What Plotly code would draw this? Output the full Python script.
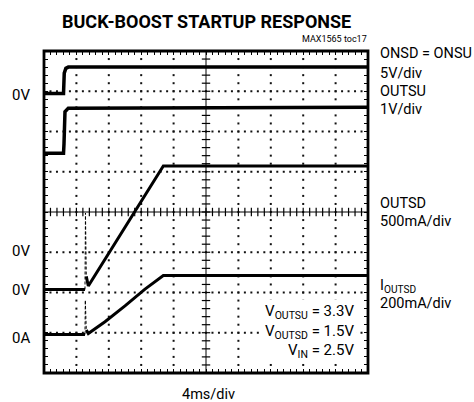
import numpy as np
import plotly.graph_objects as go

# ---- data (time in ms, 4 ms/div; vertical position in scope divisions 0..8) ----
onsd_t = [0, 2.41, 2.50, 2.70, 3.00, 40]
onsd_y = [6.944, 6.944, 7.45, 7.57, 7.60, 7.60]

outsu_t = [0, 2.41, 2.47, 2.59, 3.00, 40]
outsu_y = [5.458, 5.458, 5.70, 6.49, 6.58, 6.60]

outsd_t = [0, 5.06]
outsd_y = [2.075, 2.075]
outsd_spike_t = [5.06, 5.12, 5.22]
outsd_spike_y = [2.075, 3.975, 2.40]
outsd_ramp_t = [5.22, 5.47, 14.73, 40]
outsd_ramp_y = [2.40, 2.161, 5.143, 5.143]

iout_t = [0, 5.06]
iout_y = [0.957, 0.957]
iout_spike_t = [5.06, 5.10, 5.22]
iout_spike_y = [0.957, 1.81, 1.07]
iout_ramp_t = [5.22, 5.47, 7.53, 10.0, 12.47, 14.73, 40]
iout_ramp_y = [1.07, 0.981, 1.275, 1.668, 2.085, 2.422, 2.422]

left_labels = ["0V", "0V", "0V", "0A"]
left_label_y = [6.91, 3.03, 2.05, 0.87]

right_labels = ["ONSD = ONSU", "5V/div", "OUTSU", "1V/div",
                "OUTSD", "500mA/div", "I<sub>OUTSD</sub>", "200mA/div"]
right_label_py = [54, 73, 91, 109, 203, 222, 286, 303]

FONT = "Roboto, Liberation Sans, sans-serif"

fig = go.Figure()

# grid dots
minor_x = np.arange(0, 40.001, 0.8)
minor_y = np.arange(0, 8.001, 0.2)
gx, gy = [], []
for yy in [1, 2, 3, 5, 6, 7]:
    gx += list(minor_x); gy += [yy] * len(minor_x)
for xx in [4, 8, 12, 16, 24, 28, 32, 36]:
    gx += [xx] * len(minor_y); gy += list(minor_y)
fig.add_trace(go.Scatter(x=gx, y=gy, mode="markers",
                         marker=dict(symbol="square", size=2, color="#111", line=dict(width=0)),
                         hoverinfo="skip", showlegend=False))
# center axes ticks
fig.add_trace(go.Scatter(x=list(minor_x), y=[4] * len(minor_x), mode="markers",
                         marker=dict(symbol="line-ns", size=6, line=dict(width=1.2, color="black")),
                         hoverinfo="skip", showlegend=False))
fig.add_trace(go.Scatter(x=[20] * len(minor_y), y=list(minor_y), mode="markers",
                         marker=dict(symbol="line-ew", size=6, line=dict(width=1.2, color="black")),
                         hoverinfo="skip", showlegend=False))

def line(t, y, w, dash="solid"):
    fig.add_trace(go.Scatter(x=t, y=y, mode="lines",
                             line=dict(color="black", width=w, dash=dash),
                             hoverinfo="skip", showlegend=False))

line(onsd_t, onsd_y, 3.5)
line(outsu_t, outsu_y, 3.5)
line(outsd_t, outsd_y, 3)
line(outsd_spike_t, outsd_spike_y, 1, "3px,2px")
line(outsd_ramp_t, outsd_ramp_y, 3)
line(iout_t, iout_y, 3)
line(iout_spike_t, iout_spike_y, 1, "3px,2px")
line(iout_ramp_t, iout_ramp_y, 3)

# center lines and frame
fig.add_shape(type="line", x0=20, x1=20, y0=0, y1=8, xref="x", yref="y",
              line=dict(color="black", width=1))
fig.add_shape(type="line", x0=0, x1=40, y0=4, y1=4, xref="x", yref="y",
              line=dict(color="black", width=1))
fig.add_shape(type="rect", x0=0, x1=1, y0=0, y1=1, xref="paper", yref="paper",
              line=dict(color="black", width=2.8))

ann = []
ann.append(dict(text="<b>BUCK-BOOST STARTUP RESPONSE</b>", x=0.5015, y=1.091, xref="paper", yref="paper",
                xanchor="center", yanchor="middle", showarrow=False,
                font=dict(family=FONT, size=18, color="black")))
ann.append(dict(text="MAX1565 toc17", x=1.003, y=1.036, xref="paper", yref="paper",
                xanchor="right", yanchor="middle", showarrow=False,
                font=dict(family=FONT, size=9, color="black")))
for txt, py in zip(right_labels, right_label_py):
    ann.append(dict(text=txt, x=(378 - 44) / 324, y=(373 - py) / 322, xref="paper", yref="paper",
                    xanchor="left", yanchor="middle", showarrow=False,
                    font=dict(family=FONT, size=14.5, color="black")))
for txt, yv in zip(left_labels, left_label_y):
    ann.append(dict(text=txt, x=(32 - 44) / 324, y=yv, xref="paper", yref="y",
                    xanchor="right", yanchor="middle", showarrow=False,
                    font=dict(family=FONT, size=15, color="black")))
ann.append(dict(text="V<sub>OUTSU</sub> = 3.3V<br>V<sub>OUTSD</sub> = 1.5V<br>V<sub>IN</sub> = 2.5V",
                x=(357 - 44) / 324, y=(373 - 331) / 322, xref="paper", yref="paper",
                xanchor="right", yanchor="middle", align="right", showarrow=False,
                bgcolor="white", borderpad=2,
                font=dict(family=FONT, size=15, color="black")))
ann.append(dict(text="4ms/div", x=(208 - 44) / 324, y=(373 - 394) / 322, xref="paper", yref="paper",
                xanchor="center", yanchor="middle", showarrow=False,
                font=dict(family=FONT, size=14.5, color="black")))

fig.update_layout(
    width=474, height=402,
    margin=dict(l=44, r=106, t=51, b=29),
    paper_bgcolor="white", plot_bgcolor="white",
    annotations=ann,
    xaxis=dict(range=[0, 40], showgrid=False, zeroline=False, showline=False,
               showticklabels=False, ticks="inside", ticklen=4, tickwidth=1, dtick=0.8,
               tickcolor="black", mirror="allticks"),
    yaxis=dict(range=[0, 8], showgrid=False, zeroline=False, showline=False,
               showticklabels=False, ticks="inside", ticklen=4, tickwidth=1, dtick=0.2,
               tickcolor="black", mirror="allticks"),
)

fig.write_html("out.html", config={"displayModeBar": False},
               post_script="document.body.style.margin='0';")
